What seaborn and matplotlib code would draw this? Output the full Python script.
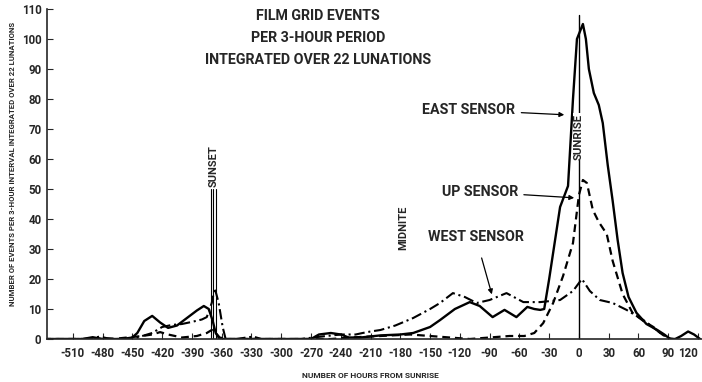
import numpy as np
import pandas as pd
from matplotlib import pyplot as plt
import seaborn as sns

# hours from sunrise / events per 3-hour interval
east_hours = [-540, -500, -490, -480, -460, -450, -445, -438, -430, -422, -414, -405, -395,
              -385, -378, -373, -369, -366, -362, -350, -300, -270, -262, -250, -240, -232,
              -220, -200, -180, -167, -150, -140, -125, -110, -100, -87, -75, -63, -52, -45,
              -39, -35, -30, -19, -11, -6, -2, 4, 7, 10, 15, 20, 24, 29, 34, 39, 44, 50,
              58, 68, 79, 86, 92, 97, 103, 110, 116, 122]
east_events = [0, 0, 0.6, 0, 0, 0.5, 2, 6, 7.7, 5.5, 3.7, 4.5, 7, 9.5, 11, 10, 6, 2, 0, 0,
               0, 0, 1.5, 2, 1.5, 0.5, 0.5, 1.2, 1.5, 2, 4, 6.3, 10, 12.3, 11, 7.3, 9.7, 7.3,
               10.7, 10, 9.7, 10, 20, 44, 51, 80, 100, 105, 100, 90, 82, 78, 72, 58, 46, 33,
               22, 14, 8.7, 5, 3, 1.5, 0, 0, 1, 2.5, 1.5, 0]

up_hours = [-540, -470, -455, -440, -430, -422, -414, -400, -385, -375, -370, -366, -362,
            -355, -340, -250, -230, -200, -170, -150, -130, -110, -90, -70, -55, -45, -36,
            -26, -16, -6, 0, 4, 8, 14, 20, 28, 34, 44, 54, 65, 75, 82, 89, 95]
up_events = [0, 0, 0.5, 1, 1.5, 2.3, 1.5, 0.5, 1, 2, 3, 2, 0.5, 0, 0, 0, 0.5, 1, 1.5, 1,
             0.5, 0, 0.5, 1, 1, 2, 5.3, 12, 21, 32, 48, 53, 52, 43, 39, 35, 26, 15, 8.7,
             6, 4, 2, 0.3, 0]

west_hours = [-540, -500, -490, -483, -476, -465, -450, -440, -430, -420, -410, -400, -390,
              -380, -375, -370, -367, -363, -359, -356, -345, -335, -328, -320, -300, -280,
              -260, -240, -225, -218, -210, -200, -185, -167, -150, -140, -127, -115, -103,
              -90, -73, -56, -39, -19, -6, 3, 11, 21, 34, 48, 65, 82, 92, 100]
west_events = [0, 0, 0.3, 0.8, 0.3, 0, 0, 1, 2, 4, 4.7, 5, 5.7, 6.5, 7.3, 12, 17, 12, 4, 0,
               0, 0.5, 0.8, 0, 0, 0, 0.8, 1.5, 1.5, 2, 2.5, 3, 4.5, 7, 10, 12, 15.3, 14, 12,
               13, 15.3, 12.3, 12.3, 13, 16, 20, 16, 13, 12, 9.7, 6.3, 2, 0, 0]

x_ticks = list(range(-510, 121, 30))
y_ticks = list(range(0, 111, 10))
sunset_hours = [-371, -369, -366]
title_lines = ['FILM GRID EVENTS', 'PER 3-HOUR PERIOD', 'INTEGRATED OVER 22 LUNATIONS']

sns.set_style('ticks')
plt.rcParams['font.family'] = ['Roboto', 'DejaVu Sans']
plt.rcParams['font.weight'] = 'bold'
plt.rcParams['axes.unicode_minus'] = False

fig = plt.figure(figsize=(7.02, 3.82), dpi=100)
ax = fig.add_axes([47 / 702, 43 / 382, 655 / 702, 330 / 382])

sns.lineplot(x=east_hours, y=east_events, ax=ax, color='black', lw=1.7)
sns.lineplot(x=up_hours, y=up_events, ax=ax, color='black', lw=1.6)
ax.lines[-1].set_dashes((3.5, 2.2))
sns.lineplot(x=west_hours, y=west_events, ax=ax, color='black', lw=1.5)
ax.lines[-1].set_dashes((5, 1.8, 1, 1.8))

# sunset / sunrise markers
for h in sunset_hours:
    ax.plot([h, h], [0, 50], color='black', lw=0.8)
ax.plot([0, 0], [0, 108], color='black', lw=1)

ax.text(-368, 57.5, 'SUNSET', rotation=90, ha='center', va='center', fontsize=8,
        fontweight='bold', bbox=dict(facecolor='white', edgecolor='none', pad=0.5))
ax.text(0, 67.5, 'SUNRISE', rotation=90, ha='center', va='center', fontsize=8.2,
        fontweight='bold', bbox=dict(facecolor='white', edgecolor='none', pad=0.5))
ax.text(-177, 37, 'MIDNITE', rotation=90, ha='center', va='center', fontsize=8,
        fontweight='bold')

for line, yv in zip(title_lines, [107.8, 100.3, 93]):
    ax.text(-263, yv, line, ha='center', va='center', fontsize=10.3, fontweight='bold')

arrow = dict(arrowstyle='-|>', color='black', lw=0.9, mutation_scale=7)
ax.annotate('EAST SENSOR', xy=(-12, 74.7), xytext=(-111, 76.3), ha='center', va='center',
            fontsize=10.3, fontweight='bold', arrowprops=arrow)
ax.annotate('UP SENSOR', xy=(-2, 47), xytext=(-100, 49), ha='center', va='center',
            fontsize=10.3, fontweight='bold', arrowprops=arrow)
ax.annotate('WEST SENSOR', xy=(-87, 14), xytext=(-104, 34), ha='center', va='center',
            fontsize=10.3, fontweight='bold',
            arrowprops=dict(arrowstyle='-|>', color='black', lw=0.9,
                            mutation_scale=7, shrinkA=8))

ax.set_xlim(-536, 124)
ax.set_ylim(0, 110)
ax.set_xticks(x_ticks)
ax.set_yticks(y_ticks)
ax.tick_params(direction='in', length=4, width=0.8, labelsize=8.3, pad=6)
ax.tick_params(axis='y', pad=4)
for lab in ax.get_xticklabels() + ax.get_yticklabels():
    lab.set_fontweight('bold')
ax.get_xticklabels()[-1].set_ha('right')
for s in ['top', 'right']:
    ax.spines[s].set_visible(False)
for s in ['left', 'bottom']:
    ax.spines[s].set_linewidth(1.2)

fig.text(13 / 702, (382 - 163.5) / 382,
         'NUMBER OF EVENTS PER 3-HOUR INTERVAL INTEGRATED OVER 22 LUNATIONS',
         rotation=90, ha='center', va='center', fontsize=5.6, fontweight='bold')
fig.text(370 / 702, 7 / 382, 'NUMBER OF HOURS FROM SUNRISE', ha='center', va='center',
         fontsize=6, fontweight='bold')

plt.savefig('out.png', dpi=100)
